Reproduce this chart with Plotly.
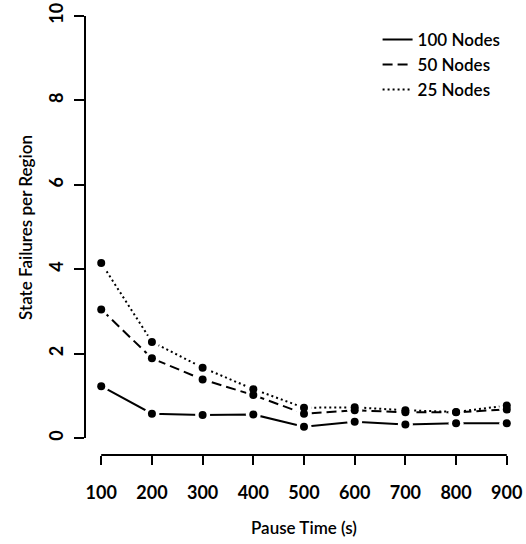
import plotly.graph_objects as go

pause_time = [100, 200, 300, 400, 500, 600, 700, 800, 900]
nodes_100 = [1.23, 0.58, 0.55, 0.56, 0.27, 0.39, 0.32, 0.35, 0.35]
nodes_50 = [3.05, 1.89, 1.39, 1.02, 0.58, 0.66, 0.61, 0.61, 0.68]
nodes_25 = [4.15, 2.28, 1.67, 1.16, 0.72, 0.73, 0.66, 0.62, 0.77]
series_names = ["100 Nodes", "50 Nodes", "25 Nodes"]
x_ticks = [100, 200, 300, 400, 500, 600, 700, 800, 900]
y_ticks = [0, 2, 4, 6, 8, 10]

FONT = "Lato"
series = [nodes_100, nodes_50, nodes_25]
dashes = ["solid", "10px,5px", "2px,3px"]

fig = go.Figure()
# lines
for name, vals, dash in zip(series_names, series, dashes):
    fig.add_trace(go.Scatter(
        x=pause_time, y=vals, mode="lines", showlegend=False,
        line=dict(color="black", width=2, dash=dash), hoverinfo="skip"))
# white halos give the R type="b" gaps around points
for vals in series:
    fig.add_trace(go.Scatter(
        x=pause_time, y=vals, mode="markers", showlegend=False,
        marker=dict(color="white", size=15), hoverinfo="skip"))
# points
for vals in series:
    fig.add_trace(go.Scatter(
        x=pause_time, y=vals, mode="markers", showlegend=False,
        marker=dict(color="black", size=8), hoverinfo="skip"))
# legend entries (lines only)
for name, dash in zip(series_names, dashes):
    fig.add_trace(go.Scatter(
        x=[None], y=[None], mode="lines", name=name,
        line=dict(color="black", width=2, dash=dash)))

# R-style axis lines spanning first to last tick
fig.add_shape(type="line", xref="paper", yref="y", x0=0, x1=0,
              y0=y_ticks[0], y1=y_ticks[-1], line=dict(color="black", width=2))
fig.add_shape(type="line", xref="x", yref="paper", y0=0, y1=0,
              x0=x_ticks[0], x1=x_ticks[-1], line=dict(color="black", width=2))

fig.update_layout(
    width=526, height=544,
    margin=dict(l=85, r=3, t=0, b=89),
    plot_bgcolor="white", paper_bgcolor="white",
    font=dict(family=FONT, color="black", size=17),
    legend=dict(x=0.668, y=0.952, xanchor="left", yanchor="top",
                font=dict(family=FONT, size=17, color="black", weight=600),
                bgcolor="rgba(0,0,0,0)", tracegroupgap=0, itemwidth=30),
    xaxis=dict(range=[68, 932], tickvals=x_ticks, ticks="outside", ticklen=9,
               tickwidth=2, tickcolor="black", showgrid=False, zeroline=False,
               showline=False, ticklabelstandoff=12,
               tickfont=dict(family=FONT, size=18, weight="bold"),
               title=dict(text="Pause Time (s)", font=dict(family=FONT, size=17, weight=600),
                          standoff=20)),
    yaxis=dict(range=[-0.40, 10.38], tickvals=y_ticks, ticks="outside", ticklen=10,
               tickwidth=2, tickcolor="black", showgrid=False, zeroline=False,
               showline=False, tickangle=-90, ticklabelstandoff=4,
               tickfont=dict(family=FONT, size=18, weight="bold"),
               title=dict(text="State Failures per Region",
                          font=dict(family=FONT, size=17, weight=600), standoff=7)),
)
fig.write_html("out.html")
